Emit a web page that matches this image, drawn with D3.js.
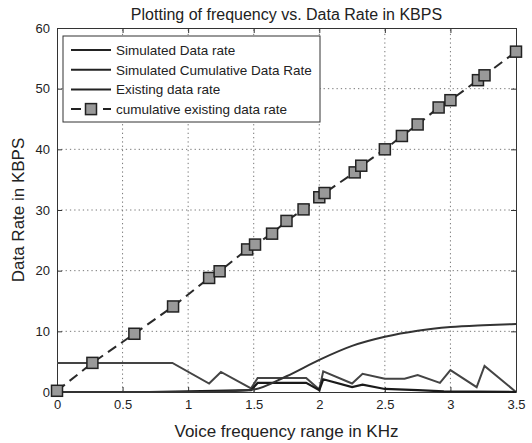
<!DOCTYPE html>
<html>
<head>
<meta charset="utf-8">
<script src="https://cdn.jsdelivr.net/npm/d3@7"></script>
<style>
  body { margin: 0; background: #fff; }
  text { font-family: "Liberation Sans", Arial, sans-serif; fill: #222; }
</style>
</head>
<body>
<svg id="chart"></svg>
<script>
const width = 532;
const height = 443;

// data
const xTicks = [0, 0.5, 1, 1.5, 2, 2.5, 3, 3.5];
const yTicks = [0, 10, 20, 30, 40, 50, 60];

const simRateX = [0, 0.7, 1.2, 1.48, 1.53, 1.9, 2.0, 2.03, 2.25, 2.33, 2.5, 2.75, 2.95, 3.5];
const simRateY = [0, 0, 0.2, 0.3, 1.5, 1.5, 0.3, 2.1, 0.8, 1.2, 0.5, 0.3, 0.1, 0];

const simCumX = [0, 1.0, 1.3, 1.5, 1.75, 2.0, 2.25, 2.5, 2.75, 3.0, 3.25, 3.5];
const simCumY = [0, 0, 0.1, 0.4, 2.6, 5.3, 7.6, 9.1, 10.1, 10.7, 11.0, 11.2];

const existX = [0, 0.88, 1.16, 1.25, 1.48, 1.53, 1.9, 2.0, 2.03, 2.25, 2.33, 2.5, 2.65, 2.75, 2.92, 3.0, 3.2, 3.26, 3.5];
const existY = [4.8, 4.8, 1.4, 3.3, 0.6, 2.3, 2.3, 0.4, 3.4, 1.4, 3.0, 2.2, 2.2, 2.8, 1.5, 3.6, 0.8, 4.3, 0];

const cumExistX = [0, 0.27, 0.59, 0.885, 1.16, 1.24, 1.45, 1.51, 1.64, 1.75, 1.88, 2.0, 2.04, 2.27, 2.32, 2.5, 2.63, 2.75, 2.91, 3.0, 3.21, 3.26, 3.5];
const cumExistY = [0.2, 4.8, 9.6, 14.1, 18.8, 19.9, 23.5, 24.3, 26.1, 28.2, 30.1, 32.1, 32.8, 36.2, 37.3, 40, 42.2, 44.1, 46.9, 48.1, 51.4, 52.2, 56.1];

const legendLabels = ['Simulated Data rate', 'Simulated Cumulative Data Rate', 'Existing data rate', 'cumulative existing data rate'];

const margin = { left: 57, right: 16, top: 28, bottom: 51 };

const svg = d3.select('#chart')
  .attr('width', width)
  .attr('height', height);

const x = d3.scaleLinear().domain([0, 3.5]).range([margin.left, width - margin.right]);
const y = d3.scaleLinear().domain([0, 60]).range([height - margin.bottom, margin.top]);

// grid
const grid = svg.append('g');
grid.selectAll('.gx')
  .data(xTicks.slice(1, -1))
  .enter()
  .append('line')
  .attr('x1', d => x(d)).attr('x2', d => x(d))
  .attr('y1', y(0)).attr('y2', y(60))
  .attr('stroke', '#777')
  .attr('stroke-dasharray', '1.3,3');
grid.selectAll('.gy')
  .data(yTicks.slice(1, -1))
  .enter()
  .append('line')
  .attr('x1', x(0)).attr('x2', x(3.5))
  .attr('y1', d => y(d)).attr('y2', d => y(d))
  .attr('stroke', '#777')
  .attr('stroke-dasharray', '1.3,3');

// axes
const xAxis = svg.append('g')
  .attr('transform', `translate(0,${y(0)})`)
  .call(d3.axisBottom(x).tickValues(xTicks).tickFormat(d3.format('')).tickSizeInner(-5).tickSizeOuter(0).tickPadding(8));
const yAxis = svg.append('g')
  .attr('transform', `translate(${x(0)},0)`)
  .call(d3.axisLeft(y).tickValues(yTicks).tickSizeInner(-5).tickSizeOuter(0).tickPadding(7));
svg.append('g')
  .attr('transform', `translate(0,${y(60)})`)
  .call(d3.axisTop(x).tickValues(xTicks).tickFormat('').tickSizeInner(-5).tickSizeOuter(0));
svg.append('g')
  .attr('transform', `translate(${x(3.5)},0)`)
  .call(d3.axisRight(y).tickValues(yTicks).tickFormat('').tickSizeInner(-5).tickSizeOuter(0));

svg.selectAll('.domain').attr('stroke', '#333');
svg.selectAll('.tick line').attr('stroke', '#333');
svg.selectAll('.tick text')
  .style('font-size', '13px')
  .attr('fill', '#222')
  .style('font-family', '"Liberation Sans", Arial, sans-serif');

// lines
const line = d3.line().x(d => x(d[0])).y(d => y(d[1]));
const zip = (a, b) => a.map((v, i) => [v, b[i]]);

svg.append('path')
  .datum(zip(existX, existY))
  .attr('d', line)
  .attr('fill', 'none')
  .attr('stroke', '#444')
  .attr('stroke-width', 2);

svg.append('path')
  .datum(zip(simRateX, simRateY))
  .attr('d', line)
  .attr('fill', 'none')
  .attr('stroke', '#1a1a1a')
  .attr('stroke-width', 2.2);

svg.append('path')
  .datum(zip(simCumX, simCumY))
  .attr('d', d3.line().x(d => x(d[0])).y(d => y(d[1])).curve(d3.curveMonotoneX))
  .attr('fill', 'none')
  .attr('stroke', '#333')
  .attr('stroke-width', 2);

const cumData = zip(cumExistX, cumExistY);
svg.append('path')
  .datum(cumData)
  .attr('d', line)
  .attr('fill', 'none')
  .attr('stroke', '#2a2a2a')
  .attr('stroke-width', 2)
  .attr('stroke-dasharray', '10,6');

const sq = 11;
svg.selectAll('.sq')
  .data(cumData)
  .enter()
  .append('rect')
  .attr('x', d => x(d[0]) - sq / 2)
  .attr('y', d => y(d[1]) - sq / 2)
  .attr('width', sq).attr('height', sq)
  .attr('fill', '#999')
  .attr('stroke', '#222')
  .attr('stroke-width', 1.5);

// legend
const lg = svg.append('g').attr('transform', 'translate(63,36)');
lg.append('rect')
  .attr('width', 257).attr('height', 86)
  .attr('fill', '#fff')
  .attr('stroke', '#333');
legendLabels.forEach((lab, i) => {
  const ly = 14 + i * 19.7;
  if (i < 3) {
    lg.append('line')
      .attr('x1', 8).attr('x2', 48)
      .attr('y1', ly).attr('y2', ly)
      .attr('stroke', '#222').attr('stroke-width', 2);
  } else {
    lg.append('line')
      .attr('x1', 8).attr('x2', 48)
      .attr('y1', ly).attr('y2', ly)
      .attr('stroke', '#222').attr('stroke-width', 2)
      .attr('stroke-dasharray', '10,6');
    lg.append('rect')
      .attr('x', 28 - sq / 2).attr('y', ly - sq / 2)
      .attr('width', sq).attr('height', sq)
      .attr('fill', '#999').attr('stroke', '#222').attr('stroke-width', 1.5);
  }
  lg.append('text')
    .attr('x', 53).attr('y', ly + 5)
    .style('font-size', '13.5px')
    .text(lab);
});

// titles
svg.append('text')
  .attr('x', (x(0) + x(3.5)) / 2).attr('y', 20)
  .attr('text-anchor', 'middle')
  .style('font-size', '16px')
  .text('Plotting of frequency vs. Data Rate in KBPS');
svg.append('text')
  .attr('x', (x(0) + x(3.5)) / 2).attr('y', 437)
  .attr('text-anchor', 'middle')
  .style('font-size', '17px')
  .text('Voice frequency range in KHz');
svg.append('text')
  .attr('transform', `translate(24,${(y(0) + y(60)) / 2}) rotate(-90)`)
  .attr('text-anchor', 'middle')
  .style('font-size', '17px')
  .text('Data Rate in KBPS');
</script>
</body>
</html>
